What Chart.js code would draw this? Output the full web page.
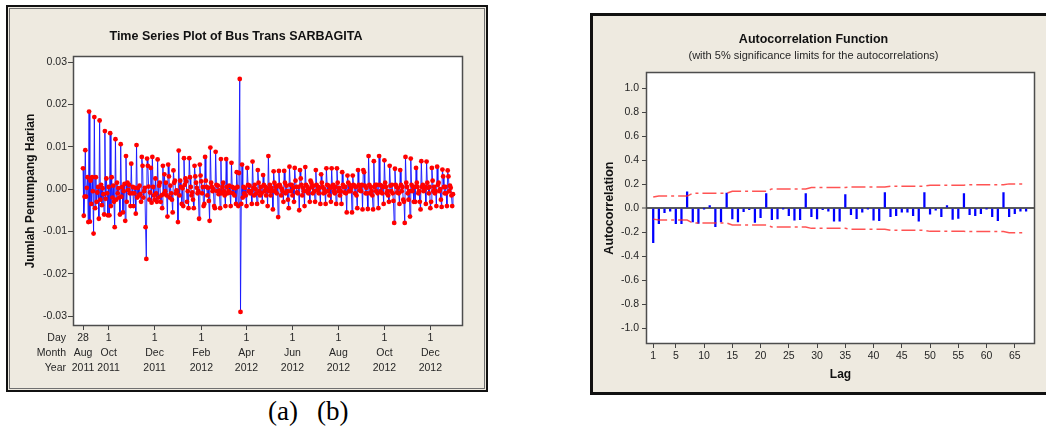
<!DOCTYPE html>
<html>
<head>
<meta charset="utf-8">
<title>Bus Trans SARBAGITA</title>
<script src="https://cdn.jsdelivr.net/npm/chart.js@4.4.1/dist/chart.umd.min.js"></script>
<style>
  html, body { margin: 0; padding: 0; background: #fff; }
  body { width: 1046px; height: 427px; position: relative; overflow: hidden; }
  .panel { position: absolute; box-sizing: border-box; background: #eeeae0; }
  #panelA { left: 6px; top: 5px; width: 482px; height: 387px; border: 2px solid #111; }
  #panelA::after { content: ''; position: absolute; left: 1px; top: 1px; right: 1px; bottom: 1px; border: 1px solid #707070; }
  #panelB { left: 590px; top: 13px; width: 470px; height: 382px; border: 3px solid #111; }
  .box { position: absolute; }
  #boxA { left: 10px; top: 9px; width: 472px; height: 377px; }
  #boxB { left: 593px; top: 16px; width: 453px; height: 377px; }
  .cap { position: absolute; top: 396px; font-family: 'Liberation Serif', 'Times New Roman', serif; font-size: 27px; line-height: 31px; color: #000; }
</style>
</head>
<body>
<div class="panel" id="panelA"></div>
<div class="panel" id="panelB"></div>
<div class="box" id="boxA"><canvas id="tsChart"></canvas></div>
<div class="box" id="boxB"><canvas id="acfChart"></canvas></div>
<div class="cap" style="left:268px">(a)</div>
<div class="cap" style="left:317px">(b)</div>
<script>
// daily change in passengers (units of 0.001), one row per week Sun..Sat, from Sun 28 Aug 2011
const dailyChange = [
  4.9, -6.3, -1.8, 9.2, -1.8, 0.3, 2.8,
  -7.8, 18.3, -7.7, 2.0, -3.5, 2.8, -0.5,
  -10.5, 17.0, -4.5, 2.8, -3.0, -0.8, 0.5,
  -7.0, 16.2, -2.5, 1.0, -3.8, 0.2, -1.2,
  -6.0, 13.7, -2.3, 2.5, -1.0, -6.2, 0.5,
  -6.2, 13.2, -4.0, 2.8, -2.0, 0.8, -3.0,
  -9.0, 11.8, -2.5, 1.5, -1.0, 0.2, -2.0,
  -6.0, 10.6, -1.8, 0.5, -5.5, -0.5, 1.2,
  -7.5, 7.8, -3.0, 1.5, -0.2, 1.0, -1.0,
  -4.0, 6.0, -1.0, 0.5, -4.0, -1.0, 0.3,
  -5.8, 10.4, -2.0, 0.3, -1.5, 0.8, -1.2,
  -3.0, 7.6, 5.5, -2.0, -0.5, 0.3, -9.0,
  -16.5, 7.2, 5.5, 0.6, -2.5, -0.8, 5.0,
  -3.2, 7.6, 0.5, -1.5, -2.5, 2.5, -1.0,
  -3.0, 7.0, -2.0, 0.8, 1.5, -3.0, -1.5,
  -4.5, 5.5, -1.2, 3.5, -0.5, 1.5, -1.5,
  -6.5, 5.8, 3.0, -2.0, 0.8, -1.0, -2.5,
  -5.5, 4.4, 1.5, 2.0, -1.0, -0.3, -0.5,
  -7.8, 9.1, -1.5, 2.0, 0.5, -3.5, 0.2,
  -4.0, 7.3, 1.0, 2.5, 1.8, -3.0, -0.5,
  -4.5, 7.3, 2.8, 0.5, -1.5, -0.8, -2.5,
  -4.5, 5.5, 3.0, 1.5, 0.3, -1.0, -0.5,
  -7.0, 5.8, 3.2, 1.8, -1.0, 0.5, -4.0,
  -3.5, 7.6, 2.0, 0.5, -1.5, 0.3, -2.8,
  -7.5, 9.8, 1.5, 0.5, -0.5, 0.0, -4.0,
  -4.5, 8.8, 1.0, -0.5, 0.8, -1.2, -0.3,
  -4.5, 7.1, -1.0, 0.5, 1.5, -0.5, -1.5,
  -4.0, 7.1, 0.5, -1.0, -0.5, 0.8, -0.8,
  -4.0, 6.2, 0.5, -1.0, 0.3, -1.5, 0.2,
  -3.5, 4.0, 0.5, -4.0, 3.8, 26.0, -29.0,
  -3.5, 5.8, -2.0, 0.5, -1.0, 0.3, -1.5,
  -4.0, 5.0, 1.0, -0.5, 0.8, -1.0, -0.5,
  -3.5, 6.5, 0.3, -1.5, 1.0, 0.0, -1.0,
  -3.5, 4.5, 1.5, -0.5, -1.5, 0.5, -1.0,
  -3.0, 3.3, 1.0, -0.5, 0.5, -1.5, 0.2,
  -4.0, 7.8, -0.5, 1.0, -1.5, 0.3, -0.5,
  -4.8, 4.2, 1.5, -0.5, 0.5, -1.0, 0.8,
  -6.6, 4.3, 1.0, 0.5, -1.5, 0.0, -0.5,
  -3.0, 4.3, 1.5, -1.0, 0.8, -0.5, -2.5,
  -4.5, 5.3, 1.0, -0.5, 1.0, -1.5, 0.3,
  -3.0, 5.0, 2.0, 0.5, -0.8, -1.0, 0.5,
  -5.0, 4.5, 2.5, 1.0, -1.5, 0.3, -0.5,
  -4.0, 5.2, 1.0, -0.5, 0.5, -1.0, 0.0,
  -3.0, 2.0, 1.5, 0.5, -1.0, 0.8, -0.5,
  -3.0, 4.5, 1.0, -0.3, 0.5, -1.0, 0.3,
  -3.5, 3.5, 1.5, 0.5, -1.0, 0.0, -0.8,
  -3.5, 4.9, 1.0, -0.5, 0.8, -1.5, 0.3,
  -3.0, 4.9, 0.5, 1.0, -0.5, -1.0, 0.5,
  -3.5, 4.9, 1.5, -0.5, 0.3, -1.5, -0.5,
  -3.5, 4.0, 1.0, 0.5, -0.8, 0.5, -1.0,
  -5.5, 3.2, 1.5, -0.5, 1.0, -0.5, 0.3,
  -5.5, 3.2, 1.0, 0.8, -1.0, 0.5, -1.5,
  -4.5, 4.5, 1.0, -0.3, 0.5, -0.5, 1.0,
  -4.8, 4.5, 4.0, 0.8, -1.0, 0.3, -1.0,
  -4.7, 7.8, 1.0, -1.0, 0.5, -0.5, -1.5,
  -4.8, 6.6, 0.5, 1.0, -0.5, 1.0, -1.0,
  -4.5, 7.8, 1.0, -0.5, 0.8, -1.0, 0.5,
  -3.5, 6.8, 1.5, 0.5, -1.0, -0.5, -1.5,
  -3.0, 5.5, 0.8, -0.5, 1.0, -1.0, -2.8,
  -8.0, 4.8, 1.0, 0.5, -0.8, 0.3, -1.0,
  -3.5, 4.5, 1.0, -0.5, 0.5, -2.5, -3.0,
  -8.0, 7.6, 1.5, 0.5, -1.0, -2.5, -0.5,
  -6.5, 7.2, 1.0, -0.5, 0.5, -3.0, 0.5,
  -3.0, 5.0, 1.5, 0.5, -1.0, -0.5, -3.0,
  -4.8, 6.6, 0.5, 1.0, -0.5, -0.3, 0.5,
  -3.5, 6.5, 1.5, 0.3, -1.0, 0.5, -4.5,
  -3.0, 5.0, 2.0, -0.5, 0.5, -1.0, -0.5,
  -4.0, 5.3, 1.0, 1.5, -0.5, 0.0, -2.5,
  -4.2, 4.6, 3.0, 0.5, -1.0, 0.5, -1.0,
  -4.0, 4.4, 3.0, -0.5, 0.8, 0.3, -1.5,
  -4.0, -1.2
];

// time axis ticks (days after 28 Aug 2011)
const tickDays = [0, 34, 95, 157, 217, 278, 339, 400, 461];
const tickDay = ['28', '1', '1', '1', '1', '1', '1', '1', '1'];
const tickMonth = ['Aug', 'Oct', 'Dec', 'Feb', 'Apr', 'Jun', 'Aug', 'Oct', 'Dec'];
const tickYear = ['2011', '2011', '2011', '2012', '2012', '2012', '2012', '2012', '2012'];
const rowNames = ['Day', 'Month', 'Year'];
const tsTicks = [-0.03, -0.02, -0.01, 0, 0.01, 0.02, 0.03];

// autocorrelations for lags 1..67
const acfValues = [
  -0.288, -0.130, -0.039, -0.025, -0.130, -0.130, 0.136, -0.116, -0.127, -0.005,
  0.020, -0.155, -0.116, 0.125, -0.090, -0.116, -0.030, -0.014, -0.120, -0.080,
  0.122, -0.097, -0.090, -0.003, -0.064, -0.100, -0.097, 0.122, -0.072, -0.090,
  -0.014, -0.025, -0.108, -0.108, 0.113, -0.055, -0.088, -0.033, -0.003, -0.100,
  -0.105, 0.130, -0.072, -0.064, -0.033, -0.033, -0.064, -0.108, 0.130, -0.050,
  -0.017, -0.072, 0.020, -0.094, -0.086, 0.122, -0.055, -0.064, -0.047, -0.003,
  -0.072, -0.105, 0.130, -0.072, -0.047, -0.025, -0.025
];
const upperLimit = [
  0.092, 0.100, 0.100, 0.100, 0.100, 0.100, 0.100,
  0.124, 0.124, 0.124, 0.124, 0.124, 0.124, 0.124,
  0.141, 0.141, 0.141, 0.141, 0.141, 0.141, 0.141,
  0.160, 0.160, 0.160, 0.160, 0.160, 0.160, 0.160,
  0.172, 0.172, 0.172, 0.172, 0.172, 0.172, 0.172,
  0.176, 0.176, 0.176, 0.176, 0.176, 0.176, 0.176,
  0.183, 0.183, 0.183, 0.183, 0.183, 0.183, 0.183,
  0.191, 0.191, 0.191, 0.191, 0.191, 0.191, 0.191,
  0.195, 0.195, 0.195, 0.195, 0.195, 0.195, 0.195,
  0.202, 0.202, 0.202, 0.202
];
const lowerLimit = [
  -0.092, -0.100, -0.100, -0.100, -0.100, -0.100, -0.100,
  -0.124, -0.124, -0.124, -0.124, -0.124, -0.124, -0.124,
  -0.141, -0.141, -0.141, -0.141, -0.141, -0.141, -0.141,
  -0.158, -0.158, -0.158, -0.158, -0.158, -0.158, -0.158,
  -0.169, -0.169, -0.169, -0.169, -0.169, -0.169, -0.169,
  -0.177, -0.177, -0.177, -0.177, -0.177, -0.177, -0.177,
  -0.185, -0.185, -0.185, -0.185, -0.185, -0.185, -0.185,
  -0.194, -0.194, -0.194, -0.194, -0.194, -0.194, -0.194,
  -0.196, -0.196, -0.196, -0.196, -0.196, -0.196, -0.196,
  -0.205, -0.205, -0.205, -0.205
];
const lagTicks = [1, 5, 10, 15, 20, 25, 30, 35, 40, 45, 50, 55, 60, 65];
const acfTicks = [-1, -0.8, -0.6, -0.4, -0.2, 0, 0.2, 0.4, 0.6, 0.8, 1];

const FONT = "'Liberation Sans', Arial, sans-serif";
const TEXT = '#262626';
Chart.defaults.font.family = FONT;
Chart.defaults.color = TEXT;

// white plot area with a thin frame, like Minitab
const plotFrame = {
  id: 'plotFrame',
  beforeDraw(chart) {
    const { ctx, chartArea: a } = chart;
    ctx.save();
    ctx.fillStyle = '#ffffff';
    ctx.fillRect(a.left, a.top, a.right - a.left, a.bottom - a.top);
    ctx.restore();
  },
  afterDraw(chart) {
    const { ctx, chartArea: a } = chart;
    ctx.save();
    ctx.strokeStyle = '#4d4d4d';
    ctx.lineWidth = 1.5;
    ctx.strokeRect(Math.round(a.left) - 0.5, Math.round(a.top) - 0.5, Math.round(a.right - a.left) + 1, Math.round(a.bottom - a.top) + 1);
    ctx.restore();
  }
};

const rowLabels = {
  id: 'rowLabels',
  afterDraw(chart) {
    const { ctx, chartArea: a } = chart;
    ctx.save();
    ctx.font = '10.5px ' + FONT;
    ctx.fillStyle = TEXT;
    ctx.textAlign = 'right';
    ctx.textBaseline = 'middle';
    rowNames.forEach((t, i) => ctx.fillText(t, 56, a.bottom + 13 + i * 15));
    ctx.restore();
  }
};

new Chart(document.getElementById('tsChart'), {
  type: 'line',
  data: {
    datasets: [{
      data: dailyChange.map((v, i) => ({ x: i, y: v / 1000 })),
      borderColor: 'rgba(20, 20, 255, 0.9)',
      borderWidth: 1,
      pointRadius: 2.4,
      pointBackgroundColor: '#ff0000',
      pointBorderWidth: 0,
      tension: 0
    }]
  },
  options: {
    responsive: true,
    maintainAspectRatio: false,
    animation: false,
    layout: { padding: { left: 0, right: 20, top: 0, bottom: 0 } },
    plugins: {
      legend: { display: false },
      tooltip: { enabled: false },
      title: {
        display: true,
        text: 'Time Series Plot of Bus Trans SARBAGITA',
        color: '#111',
        font: { size: 12.5, weight: 'bold' },
        padding: { top: 20, bottom: 13 }
      }
    },
    scales: {
      x: {
        type: 'linear',
        min: -12,
        max: 503,
        afterBuildTicks: s => { s.ticks = tickDays.map(v => ({ value: v })); },
        afterFit: s => { s.height = 61; },
        grid: { drawOnChartArea: false, tickLength: 5, tickColor: '#444' },
        border: { display: false },
        ticks: {
          autoSkip: false,
          maxRotation: 0,
          minRotation: 0,
          padding: 1,
          font: { size: 10.5, lineHeight: 1.43 },
          callback: (v, i) => [tickDay[i], tickMonth[i], tickYear[i]]
        }
      },
      y: {
        min: -0.0321,
        max: 0.0312,
        afterBuildTicks: s => { s.ticks = tsTicks.map(v => ({ value: v })); },
        afterFit: s => { s.width = 64; },
        grid: { drawOnChartArea: false, tickLength: 6, tickColor: '#444' },
        border: { display: false },
        ticks: { padding: 1, font: { size: 10.5 }, callback: v => v.toFixed(2) },
        title: {
          display: true,
          text: 'Jumlah Penumpang Harian',
          color: '#111',
          font: { size: 12, weight: 'bold' },
          padding: { top: 13, bottom: 0 }
        }
      }
    }
  },
  plugins: [plotFrame, rowLabels]
});

new Chart(document.getElementById('acfChart'), {
  type: 'bar',
  data: {
    datasets: [
      {
        type: 'line',
        data: upperLimit.map((v, i) => ({ x: i + 1, y: v })),
        borderColor: 'rgba(255, 40, 40, 0.8)',
        borderWidth: 1.5,
        borderDash: [14, 4, 3, 4],
        pointRadius: 0,
        tension: 0,
        order: 0
      },
      {
        type: 'line',
        data: lowerLimit.map((v, i) => ({ x: i + 1, y: v })),
        borderColor: 'rgba(255, 40, 40, 0.8)',
        borderWidth: 1.5,
        borderDash: [14, 4, 3, 4],
        pointRadius: 0,
        tension: 0,
        order: 0
      },
      {
        type: 'bar',
        data: acfValues.map((v, i) => ({ x: i + 1, y: v })),
        backgroundColor: '#0000ff',
        barThickness: 1.6,
        order: 1
      }
    ]
  },
  options: {
    responsive: true,
    maintainAspectRatio: false,
    animation: false,
    layout: { padding: { left: 0, right: 12, top: 0, bottom: 0 } },
    plugins: {
      legend: { display: false },
      tooltip: { enabled: false },
      title: {
        display: true,
        text: 'Autocorrelation Function',
        color: '#111',
        font: { size: 12.5, weight: 'bold' },
        padding: { top: 16, bottom: 2 }
      },
      subtitle: {
        display: true,
        text: '(with 5% significance limits for the autocorrelations)',
        color: TEXT,
        font: { size: 11 },
        padding: { top: 0, bottom: 11 }
      }
    },
    scales: {
      x: {
        type: 'linear',
        min: -0.1,
        max: 68.4,
        offset: false,
        afterBuildTicks: s => { s.ticks = lagTicks.map(v => ({ value: v })); },
        afterFit: s => { s.height = 50; },
        grid: { drawOnChartArea: false, offset: false, tickLength: 5, tickColor: '#444' },
        border: { display: false },
        ticks: { autoSkip: false, maxRotation: 0, padding: 2, font: { size: 10.5 } },
        title: {
          display: true,
          text: 'Lag',
          color: '#111',
          font: { size: 12, weight: 'bold' },
          padding: { top: 2, bottom: 11 }
        }
      },
      y: {
        min: -1.125,
        max: 1.125,
        afterBuildTicks: s => { s.ticks = acfTicks.map(v => ({ value: v })); },
        afterFit: s => { s.width = 54; },
        grid: {
          drawOnChartArea: true,
          color: c => (c.tick && c.tick.value === 0 ? '#5a5a5a' : 'rgba(0,0,0,0)'),
          lineWidth: c => (c.tick && c.tick.value === 0 ? 2 : 1),
          tickLength: 5,
          tickColor: '#444',
          tickWidth: 1
        },
        border: { display: false },
        ticks: { padding: 3, font: { size: 10.5 }, callback: v => v.toFixed(1) },
        title: {
          display: true,
          text: 'Autocorrelation',
          color: '#111',
          font: { size: 12.5, weight: 'bold' },
          padding: { top: 9, bottom: 0 }
        }
      }
    }
  },
  plugins: [plotFrame]
});
</script>
</body>
</html>
